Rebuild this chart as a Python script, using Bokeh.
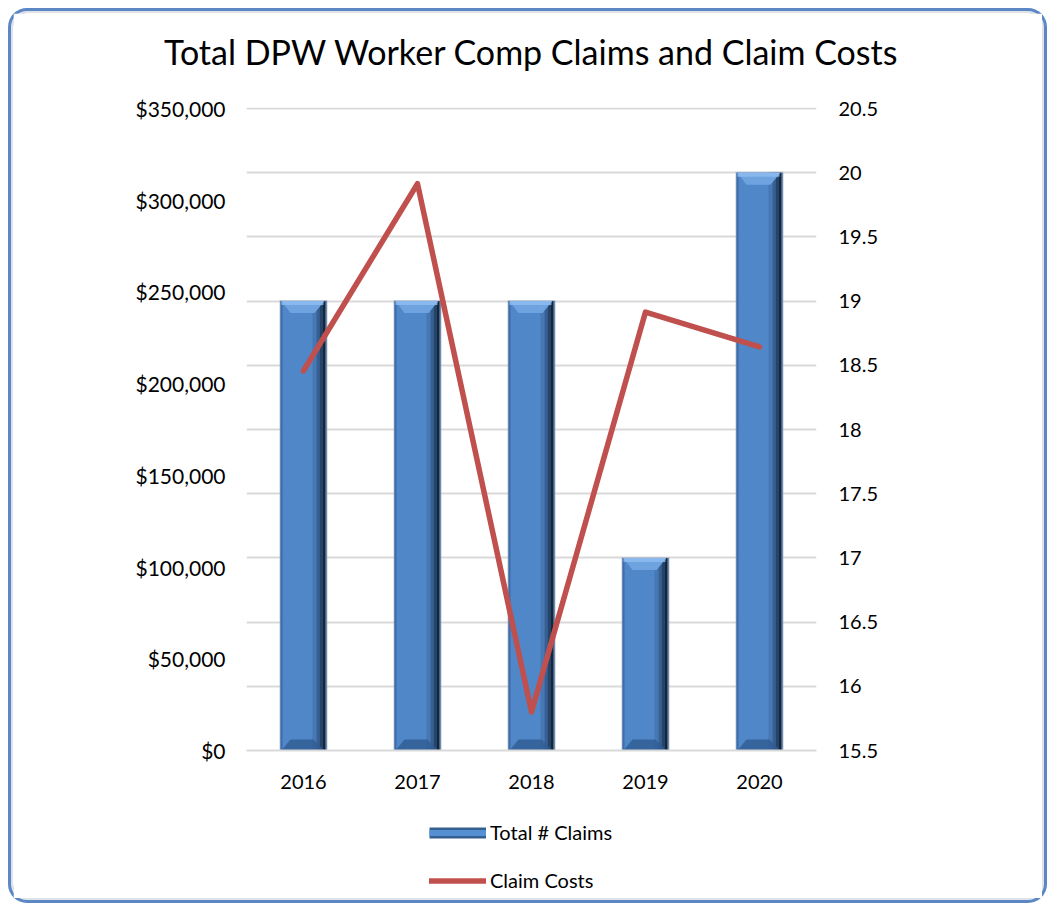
import numpy as np
from bokeh.plotting import figure
from bokeh.layouts import column
from bokeh.models import (Range1d, LinearAxis, FixedTicker, NumeralTickFormatter,
                          CustomJSTickFormatter, Legend, LegendItem, Title)
from bokeh.embed import file_html
from bokeh.resources import INLINE

# ---- data ----
years = ["2016", "2017", "2018", "2019", "2020"]
total_claims = [19, 19, 19, 17, 20]
claim_costs = [207000, 309000, 21000, 239000, 220000]
cost_ticks = [0, 50000, 100000, 150000, 200000, 250000, 300000, 350000]
claim_ticks = [15.5, 16, 16.5, 17, 17.5, 18, 18.5, 19, 19.5, 20, 20.5]
chart_title = "Total DPW Worker Comp Claims and Claim Costs"
series_names = ["Total # Claims", "Claim Costs"]

FONT = "Lato"
OX, OY = 13, 13                 # page offset of the chart canvas
W, H_MAIN, H_LEG = 1029, 798, 87
FL, FR, FT, FB = 246 - OX, 816 - OX, 107 - OY, 750 - OY
py = 5.0 / 642.0                # y data units per pixel (right axis)

p = figure(width=W, height=H_MAIN, output_backend="svg", toolbar_location=None,
           title=None,
           x_range=Range1d(-0.5, len(years) - 0.5),
           y_range=Range1d(claim_ticks[0], claim_ticks[-1] + py),
           y_axis_location="right",
           min_border_left=FL, min_border_right=W - FR, min_border_top=FT,
           min_border_bottom=H_MAIN - FB)
p.extra_y_ranges = {"cost": Range1d(cost_ticks[0], cost_ticks[-1] * (1 + 1 / 642))}
p.background_fill_color = "white"
p.border_fill_color = "white"
p.outline_line_color = None

# title: an empty spacer next to the frame, then the real title above it
p.add_layout(Title(text=" ", text_font=FONT, text_font_size="20px",
                   standoff=0), "above")
p.add_layout(Title(text=chart_title, align="center", text_font=FONT,
                   text_font_size="34px", text_font_style="normal",
                   text_color="black", standoff=19), "above")

# grid
p.xgrid.visible = False
p.ygrid.ticker = FixedTicker(ticks=claim_ticks)
p.ygrid.grid_line_color = "#d9d9d9"
p.ygrid.grid_line_width = 2

# ---- bars (3D look) ----
idx = np.arange(len(years))
tops = np.array(total_claims, dtype=float)
base = claim_ticks[0]
px = 1.0 / 114.0            # x data units per pixel
BW = 46 * px

p.vbar(x=idx, top=tops + py, bottom=base, width=BW + 2 * px,
       fill_color="#aab5c4", fill_alpha=0.7, line_color=None)
p.vbar(x=idx, top=tops, bottom=base, width=BW,
       fill_color="#4f87c9", line_color=None)

p.vbar(x=idx - BW / 2 + 1 * px, top=tops, bottom=base, width=2 * px,
       fill_color="#3f6ca4", line_color=None)
strips = [(14, 10, "#4778b3"), (10, 7, "#375f91"), (7, 4, "#25446a"),
          (4, 1, "#142639"), (1, 0, "#566c86")]
for a, b, c in strips:
    p.vbar(x=idx + BW / 2 - (a + b) / 2 * px, top=tops, bottom=base,
           width=(a - b) * px, fill_color=c, line_color=None)

top_xs, top_ys = [], []
bot_xs, bot_ys = [], []
for i, t in zip(idx, tops):
    L, R = i - BW / 2, i + BW / 2
    top_xs.append([L + 1 * px, R - 2 * px, R - 12 * px, L + 10 * px])
    top_ys.append([t, t, t - 12 * py, t - 12 * py])
    bot_xs.append([L + 1 * px, R - 2 * px, R - 13 * px, L + 10 * px])
    bot_ys.append([base, base, base + 11 * py, base + 11 * py])
p.patches(top_xs, top_ys, fill_color="#6fa3e0", line_color=None)
p.patches(bot_xs, bot_ys, fill_color="#2f5b91", fill_alpha=0.8, line_color=None)
p.vbar(x=idx - 1 * px, top=tops, bottom=tops - 4 * py, width=BW - 4 * px,
       fill_color="#8fbdf0", fill_alpha=0.8, line_color=None)

# ---- line ----
p.line(idx, claim_costs, y_range_name="cost", line_color="#c0504d",
       line_width=5.5, line_join="round", line_cap="round")

# ---- axes ----
def style_axis(ax, size="20px"):
    ax.axis_line_color = None
    ax.major_tick_line_color = None
    ax.minor_tick_line_color = None
    ax.major_label_text_font = FONT
    ax.major_label_text_font_size = size
    ax.major_label_text_color = "black"

raxis = p.right[0]
raxis.ticker = FixedTicker(ticks=claim_ticks)
raxis.formatter = CustomJSTickFormatter(code="return tick.toString()")
style_axis(raxis)
raxis.major_label_standoff = 16

laxis = LinearAxis(y_range_name="cost", ticker=FixedTicker(ticks=cost_ticks),
                   formatter=NumeralTickFormatter(format="$0,0"))
style_axis(laxis, "21px")
laxis.major_label_standoff = 15
p.add_layout(laxis, "left")

xaxis = p.xaxis[0]
xaxis.ticker = FixedTicker(ticks=list(idx))
xaxis.major_label_overrides = {int(i): y for i, y in zip(idx, years)}
style_axis(xaxis)
xaxis.axis_line_color = "#d9d9d9"
xaxis.axis_line_width = 2
xaxis.major_label_standoff = 18

# ---- legend (separate strip below the chart; frame aligned with main) ----
lf = figure(width=W, height=H_LEG, output_backend="svg", toolbar_location=None,
            x_range=Range1d(0, 1), y_range=Range1d(0, 1),
            x_axis_location=None, y_axis_location=None,
            min_border=0, min_border_left=0, min_border_right=0,
            min_border_top=0, min_border_bottom=0)
lf.outline_line_color = None
lf.xgrid.visible = False
lf.ygrid.visible = False
lf.background_fill_color = "white"
lf.border_fill_color = "white"
# swatch renderers: single points placed outside the visible range
off = dict(x=[-5, -4], y=[-5, -5])
sw_edge = lf.line(line_color="#33608f", line_width=11, line_cap="butt", **off)
sw_fill = lf.line(line_color="#5590d2", line_width=6, line_cap="butt", **off)
sw_line = lf.line(line_color="#c0504d", line_width=5.5, line_cap="round", **off)
legend = Legend(items=[LegendItem(label=series_names[0], renderers=[sw_edge, sw_fill]),
                       LegendItem(label=series_names[1], renderers=[sw_line])],
                location=(429 - 246, 6), orientation="vertical",
                label_text_font=FONT, label_text_font_size="20px",
                label_text_color="black",
                glyph_width=57, glyph_height=13, label_standoff=4,
                spacing=24, padding=0, margin=0,
                background_fill_alpha=0, border_line_color=None)
lf.add_layout(legend, "center")

layout = column(p, lf, spacing=0,
                styles={"margin": f"{OY}px 0 0 {OX}px",
                        "box-shadow": "0 0 0 2px #dfe3e9, 0 0 0 5px #5b87c5",
                        "border-radius": "14px"})

open("out.html", "w").write(file_html(layout, INLINE))
